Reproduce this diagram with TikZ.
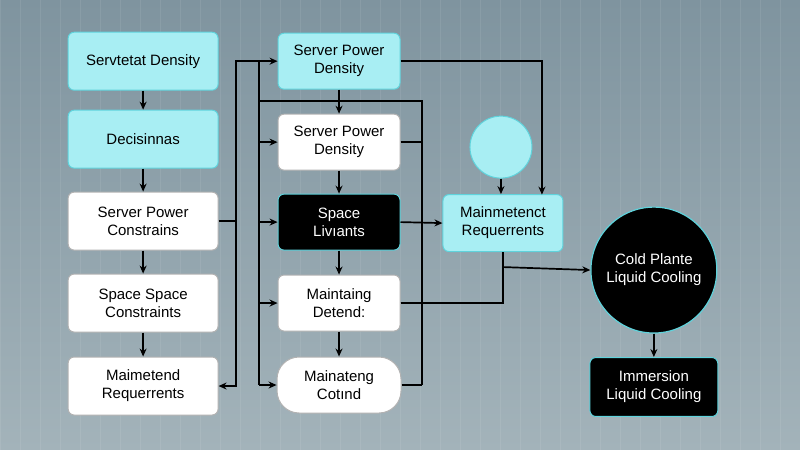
\documentclass[tikz,border=0pt]{standalone}
\usepackage{fontspec}
\setmainfont{Liberation Sans}
\usetikzlibrary{arrows.meta,shapes.misc}
\definecolor{bgA}{HTML}{7F949F}
\definecolor{bgB}{HTML}{A3B3BA}
\definecolor{cy}{HTML}{A8EEF3}
\definecolor{cyb}{HTML}{5FD3DC}
\begin{document}
\begin{tikzpicture}[x=1pt,y=-1pt,
 box/.style={draw=gray!60,line width=1pt,rounded corners=6pt,minimum width=150pt,minimum height=58pt,align=center,font=\fontsize{15}{18}\selectfont,fill=white},
 mbox/.style={box,minimum width=122pt,minimum height=56pt},
 cbox/.style={fill=cy,draw=cyb},
 dbox/.style={fill=black,draw=cyb,text=white},
 ln/.style={line width=1.7pt,black},
 ar/.style={ln,-{Stealth[length=8pt,width=7pt]}}]
\shade[top color=bgA,bottom color=bgB] (0,0) rectangle (800,450);
\draw[white,opacity=0.08] (0,0) grid[step=20] (800,450);
\useasboundingbox (0,0) rectangle (800,450);
% left column
\node[box,cbox] (a1) at (143,61) {Servtetat Density};
\node[box,cbox] (a2) at (143,139) {Decisinnas};
\node[box] (a3) at (143,221) {Server Power\\Constrains};
\node[box] (a4) at (143,303) {Space Space\\Constraints};
\node[box] (a5) at (143,386) {Maimetend\\Requerrents};
\foreach \p/\q in {a1/a2,a2/a3,a3/a4,a4/a5}{\draw[ar] (\p.south) -- (\q.north);}
% middle column
\node[mbox,cbox] (b1) at (339,61) {Server Power\\Density};
\node[mbox] (b2) at (339,142) {Server Power\\Density};
\node[mbox,dbox] (b3) at (339,222) {Space\\Livıants};
\node[mbox] (b4) at (339,303) {Maintaing\\Detend:};
\node[mbox,rounded corners=22pt,minimum width=124pt] (b5) at (339,385) {Mainateng\\Cotınd};
\foreach \p/\q in {b1/b2,b2/b3,b3/b4,b4/b5}{\draw[ar] (\p.south) -- (\q.north);}
% connectors
\draw[ln] (a3.east) -- (236,221);
\draw[ar] (236,221) |- (b1.west);
\draw[ar] (236,221) |- (a5.east);
\draw[ln] (259,62) -- (259,385);
\draw[ln] (259,101) -- (422,101) -- (422,385);
\draw[ar] (259,142) -- (b2.west);
\draw[ar] (259,222) -- (b3.west);
\draw[ar] (259,303) -- (b4.west);
\draw[ar] (259,385) -- (b5.west);
\draw[ln] (b2.east) -- (422,142);
\draw[ln] (b4.east) -- (422,303);
\draw[ln] (b5.east) -- (422,385);
% right
\node[mbox,cbox,minimum width=120pt,minimum height=57pt] (c) at (503,223) {Mainmetenct\\Requerrents};
\node[circle,fill=cy,draw=cyb,line width=1pt,minimum size=62pt] (ci) at (501,147) {};
\draw[ar] (ci.south) -- (ci.south |- c.north);
\draw[ar] (b1.east) -| (542,194.5);
\draw[ar] (b3.east) -- (c.west);
\node[circle,fill=black,draw=cyb,line width=1.2pt,minimum size=126pt,text=white,align=center,font=\fontsize{15}{18}\selectfont] (big) at (654,270) {Cold Plante\\Liquid Cooling};
\draw[ln] (b4.east) -- (503,303) -- (c.south);
\draw[ar] (503,267) -- (big.west);
\node[box,dbox,minimum width=128pt,minimum height=59pt] (im) at (654,387) {Immersion\\Liquid Cooling};
\draw[ar] (big.south) -- (im.north);
\end{tikzpicture}
\end{document}
